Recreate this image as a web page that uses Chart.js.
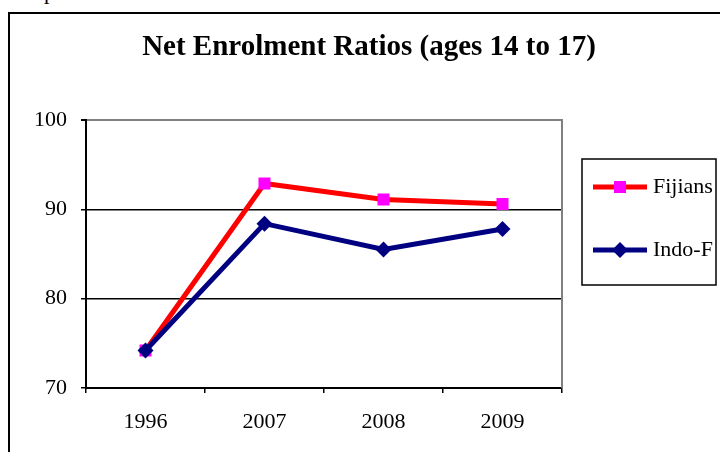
<!DOCTYPE html>
<html>
<head>
<meta charset="utf-8">
<script src="https://cdn.jsdelivr.net/npm/chart.js@4/dist/chart.umd.min.js"></script>
<style>
  html, body { margin: 0; padding: 0; background: #fff; overflow: hidden; width: 720px; height: 452px; }
  #frame { position: absolute; left: 8px; top: 12px; width: 800px; height: 500px; border: 2px solid #000; box-sizing: border-box; }
  #above { position: absolute; left: 44px; top: -21px; font: 22px "Liberation Serif", serif; color: #000; }
  #wrap { position: absolute; left: 0; top: 0; width: 720px; height: 452px; }
</style>
</head>
<body>
<div id="above">p</div>
<div id="frame"></div>
<div id="wrap"><canvas id="c" width="720" height="452"></canvas></div>
<script>
const titleText = 'Net Enrolment Ratios (ages 14 to 17)';
const years = ['1996', '2007', '2008', '2009'];
const fijians = [74.2, 92.9, 91.1, 90.6];
const indoFijians = [74.2, 88.4, 85.5, 87.8];
const yTicks = [70, 80, 90, 100];

const SERIF = '"Liberation Serif", "Times New Roman", serif';

// Title and boxed legend painted on the canvas, plus the grey right edge of the plot
const decorations = {
  id: 'decorations',
  afterDraw(chart) {
    const ctx = chart.ctx;
    const area = chart.chartArea;
    ctx.save();
    // grey right border of the plot area
    ctx.strokeStyle = '#808080';
    ctx.lineWidth = 2;
    ctx.beginPath();
    ctx.moveTo(area.right, area.top - 1);
    ctx.lineTo(area.right, area.bottom);
    ctx.stroke();

    // title
    ctx.fillStyle = '#000';
    ctx.font = 'bold 29px ' + SERIF;
    ctx.textAlign = 'center';
    ctx.textBaseline = 'alphabetic';
    ctx.fillText(titleText, 369, 55);

    // legend box
    const bx = 582, by = 159, bw = 134, bh = 126;
    ctx.lineWidth = 1.5;
    ctx.strokeStyle = '#000';
    ctx.strokeRect(bx, by, bw, bh);
    ctx.save();
    ctx.beginPath();
    ctx.rect(bx, by, bw, bh);
    ctx.clip();
    const rows = [187, 250];
    chart.data.datasets.forEach((ds, i) => {
      const y = rows[i];
      ctx.strokeStyle = ds.borderColor;
      ctx.lineWidth = ds.borderWidth;
      ctx.beginPath();
      ctx.moveTo(593, y);
      ctx.lineTo(647, y);
      ctx.stroke();
      ctx.fillStyle = ds.pointBackgroundColor;
      ctx.strokeStyle = ds.pointBorderColor;
      ctx.lineWidth = ds.pointBorderWidth;
      Chart.helpers.drawPoint(ctx, { pointStyle: ds.pointStyle, radius: ds.pointRadius, borderWidth: ds.pointBorderWidth, rotation: 0 }, 620, y);
      ctx.fillStyle = '#000';
      ctx.font = '22px ' + SERIF;
      ctx.textAlign = 'left';
      ctx.textBaseline = 'middle';
      ctx.fillText(ds.label, 653, y);
    });
    ctx.restore();
    ctx.restore();
  }
};

new Chart(document.getElementById('c'), {
  type: 'line',
  data: {
    labels: years,
    datasets: [
      {
        label: 'Fijians',
        data: fijians,
        borderColor: '#FF0000',
        borderWidth: 5,
        pointStyle: 'rect',
        pointRadius: 8.5,
        pointBackgroundColor: '#FF00FF',
        pointBorderColor: '#FF00FF',
        pointBorderWidth: 0,
        tension: 0,
        order: 2
      },
      {
        label: 'Indo-F',
        data: indoFijians,
        borderColor: '#000080',
        borderWidth: 5,
        pointStyle: 'rectRot',
        pointRadius: 8,
        pointBackgroundColor: '#000080',
        pointBorderColor: '#000080',
        pointBorderWidth: 0,
        tension: 0,
        order: 1
      }
    ]
  },
  options: {
    responsive: false,
    animation: false,
    events: [],
    layout: { padding: { left: 0, top: 120, right: 158, bottom: 0 } },
    plugins: { legend: { display: false }, title: { display: false }, tooltip: { enabled: false } },
    scales: {
      x: {
        type: 'category',
        offset: true,
        afterFit(scale) { scale.height = 64; },
        grid: { display: true, offset: true, drawOnChartArea: false, drawTicks: true, tickLength: 5, color: '#000', tickColor: '#000', lineWidth: 1.5 },
        border: { display: true, color: '#000', width: 2 },
        ticks: { color: '#000', font: { family: SERIF, size: 22 }, padding: 16, maxRotation: 0 }
      },
      y: {
        min: 70,
        max: 100,
        afterFit(scale) { scale.width = 86; },
        afterBuildTicks(scale) { scale.ticks = yTicks.map(v => ({ value: v })); },
        grid: {
          drawTicks: true,
          tickLength: 5,
          tickColor: '#000',
          color: ctx => (ctx.tick && ctx.tick.value === 100 ? '#808080' : '#000'),
          lineWidth: ctx => (ctx.tick && ctx.tick.value === 100 ? 2 : 1.5)
        },
        border: { display: true, color: '#000', width: 2 },
        ticks: { color: '#000', font: { family: SERIF, size: 22 }, padding: 14 }
      }
    }
  },
  plugins: [decorations]
});
</script>
</body>
</html>
